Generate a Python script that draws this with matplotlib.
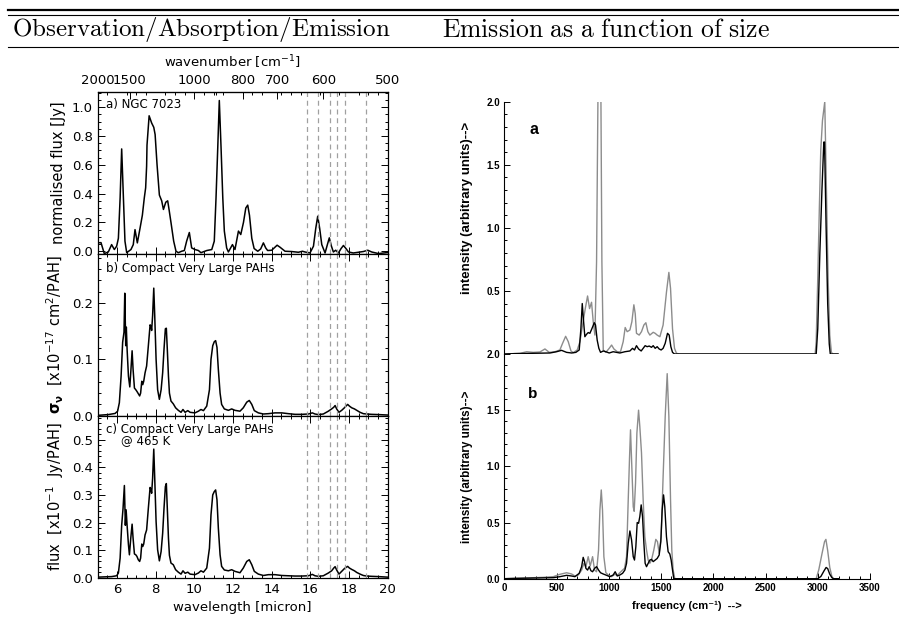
import numpy as np
import matplotlib.pyplot as plt
from matplotlib.ticker import MultipleLocator, FixedLocator

# ----- left column: observation / absorption / emission (wavelength in micron) -----
lam_a = [5.00, 5.17, 5.34, 5.55, 5.72, 5.86, 5.98, 6.07, 6.16, 6.24, 6.33, 6.41, 6.50,
         6.72, 6.84, 6.93, 7.05, 7.19, 7.31, 7.41, 7.48, 7.53, 7.55, 7.66, 7.79, 7.90,
         7.97, 8.07, 8.19, 8.31, 8.40, 8.52, 8.62, 8.69, 8.79, 8.93, 9.05, 9.17, 9.34,
         9.48, 9.60, 9.74, 9.86, 10.03, 10.21, 10.34, 10.64, 10.90, 11.03, 11.12, 11.21,
         11.29, 11.38, 11.47, 11.55, 11.67, 11.76, 11.97, 12.10, 12.28, 12.40, 12.54,
         12.66, 12.76, 12.85, 12.97, 13.09, 13.28, 13.43, 13.57, 13.69, 13.79, 14.00,
         14.28, 14.43, 14.69, 15.03, 15.38, 15.59, 15.72, 15.98, 16.16, 16.28, 16.38,
         16.48, 16.59, 16.76, 16.88, 16.98, 17.09, 17.19, 17.31, 17.45, 17.59, 17.71,
         17.84, 17.97, 18.22, 18.48, 18.74, 18.97, 19.17, 19.52, 20.00]
flux_a = [0.058, 0.060, -0.016, -0.005, 0.046, 0.012, 0.035, 0.090, 0.37, 0.71, 0.37, 0.07, -0.01,
          0.012, 0.046, 0.15, 0.058, 0.16, 0.25, 0.37, 0.44, 0.59, 0.736, 0.94, 0.89, 0.86,
          0.81, 0.60, 0.39, 0.35, 0.29, 0.34, 0.35, 0.29, 0.20, 0.07, 0.0, -0.01, 0.0,
          0.005, 0.07, 0.13, 0.023, 0.012, 0.005, -0.01, 0.005, 0.012, 0.07, 0.37, 0.72,
          1.046, 0.72, 0.37, 0.14, 0.023, -0.005, 0.046, 0.012, 0.14, 0.116, 0.20,
          0.30, 0.32, 0.25, 0.09, 0.019, 0.0, 0.016, 0.058, 0.023, 0.005, 0.007,
          0.042, 0.028, 0.0, -0.002, -0.007, 0.0, -0.005, -0.012, 0.035, 0.16, 0.243,
          0.16, 0.046, -0.012, 0.046, 0.093, 0.035, -0.005, 0.007, -0.012, 0.019, 0.04,
          0.019, -0.005, -0.012, -0.007, -0.002, 0.007, -0.005, -0.016, -0.009]

lam_b = [5.00, 5.55, 5.90, 6.03, 6.12, 6.21, 6.29, 6.36, 6.40, 6.45, 6.48, 6.52, 6.59,
         6.66, 6.72, 6.78, 6.83, 6.90, 6.97, 7.03, 7.10, 7.17, 7.22, 7.28, 7.33, 7.38,
         7.45, 7.53, 7.62, 7.71, 7.76, 7.79, 7.84, 7.90, 7.95, 8.02, 8.10, 8.19, 8.28,
         8.36, 8.43, 8.50, 8.55, 8.60, 8.66, 8.71, 8.79, 8.91, 9.03, 9.17, 9.31, 9.41,
         9.52, 9.66, 9.78, 10.03, 10.21, 10.34, 10.47, 10.64, 10.78, 10.86, 10.95, 11.03,
         11.10, 11.17, 11.24, 11.33, 11.41, 11.55, 11.76, 11.93, 12.10, 12.36, 12.53,
         12.71, 12.84, 12.97, 13.10, 13.31, 13.57, 13.83, 14.17, 14.52, 14.86, 15.21,
         15.55, 15.90, 16.10, 16.24, 16.41, 16.67, 16.93, 17.10, 17.21, 17.28, 17.36,
         17.48, 17.62, 17.76, 17.84, 17.93, 18.02, 18.14, 18.28, 18.40, 18.57, 18.74,
         18.91, 19.17, 19.52, 20.00]
sigma_b = [0.0006, 0.002, 0.004, 0.008, 0.023, 0.070, 0.130, 0.148, 0.217, 0.124, 0.157, 0.118, 0.070,
           0.051, 0.082, 0.115, 0.082, 0.049, 0.046, 0.043, 0.039, 0.035, 0.040, 0.061, 0.055, 0.061,
           0.076, 0.088, 0.124, 0.161, 0.158, 0.151, 0.177, 0.226, 0.177, 0.100, 0.046, 0.029, 0.046,
           0.076, 0.118, 0.154, 0.155, 0.118, 0.070, 0.040, 0.026, 0.021, 0.014, 0.0095, 0.006, 0.011,
           0.006, 0.009, 0.006, 0.005, 0.008, 0.011, 0.009, 0.017, 0.046, 0.100, 0.124, 0.131,
           0.133, 0.121, 0.082, 0.040, 0.020, 0.012, 0.0095, 0.012, 0.0095, 0.008, 0.014,
           0.024, 0.027, 0.020, 0.009, 0.005, 0.003, 0.0036, 0.005, 0.005, 0.0036, 0.0024,
           0.0024, 0.003, 0.005, 0.003, 0.002, 0.003, 0.008, 0.012, 0.015, 0.018, 0.012,
           0.006, 0.0095, 0.014, 0.017, 0.020, 0.017, 0.014, 0.012, 0.0095, 0.006, 0.0036,
           0.003, 0.0024, 0.002, 0.0012]

lam_c = [5.00, 5.72, 5.98, 6.07, 6.16, 6.24, 6.31, 6.38, 6.43, 6.47, 6.52, 6.59, 6.64,
         6.71, 6.78, 6.83, 6.90, 6.97, 7.03, 7.10, 7.17, 7.22, 7.28, 7.33, 7.38,
         7.45, 7.53, 7.62, 7.71, 7.76, 7.79, 7.84, 7.90, 7.95, 8.02, 8.10, 8.19, 8.28,
         8.36, 8.43, 8.50, 8.55, 8.60, 8.66, 8.71, 8.79, 8.91, 9.03, 9.17, 9.31, 9.41,
         9.52, 9.66, 9.78, 10.03, 10.21, 10.34, 10.47, 10.64, 10.78, 10.86, 10.95, 11.03,
         11.10, 11.17, 11.24, 11.33, 11.41, 11.55, 11.76, 11.93, 12.10, 12.36, 12.53,
         12.71, 12.84, 12.97, 13.10, 13.31, 13.57, 13.83, 14.17, 14.52, 14.86, 15.21,
         15.55, 15.90, 16.10, 16.24, 16.41, 16.67, 16.93, 17.10, 17.21, 17.28, 17.36,
         17.48, 17.62, 17.76, 17.84, 17.93, 18.02, 18.14, 18.28, 18.40, 18.57, 18.74,
         18.91, 19.17, 19.52, 20.00]
flux_c = [0.002, 0.004, 0.007, 0.017, 0.071, 0.190, 0.250, 0.334, 0.190, 0.246, 0.190, 0.120, 0.083,
          0.143, 0.194, 0.143, 0.086, 0.083, 0.077, 0.065, 0.059, 0.071, 0.122, 0.113, 0.122, 0.155,
          0.173, 0.252, 0.327, 0.318, 0.306, 0.360, 0.466, 0.360, 0.204, 0.101, 0.061, 0.095, 0.161,
          0.252, 0.330, 0.341, 0.252, 0.143, 0.081, 0.053, 0.047, 0.029, 0.020, 0.013, 0.025,
          0.016, 0.020, 0.013, 0.011, 0.017, 0.025, 0.020, 0.035, 0.107, 0.228, 0.300, 0.312,
          0.318, 0.282, 0.180, 0.083, 0.041, 0.028, 0.025, 0.029, 0.023, 0.018, 0.035,
          0.059, 0.065, 0.047, 0.023, 0.013, 0.008, 0.011, 0.011, 0.008, 0.007, 0.006,
          0.006, 0.007, 0.012, 0.007, 0.005, 0.007, 0.017, 0.025, 0.035, 0.040, 0.028,
          0.013, 0.023, 0.033, 0.037, 0.041, 0.035, 0.030, 0.025, 0.019, 0.013, 0.008,
          0.006, 0.005, 0.004, 0.002]

band_lines = [15.8, 16.4, 17.0, 17.4, 17.8, 18.9]
wn_ticks = [2000, 1500, 1000, 800, 700, 600, 500]

# ----- right column: emission vs frequency (cm-1) -----
fa_grey = [0, 150, 214, 277, 341, 389, 430, 485, 532, 558, 587, 612, 638, 660, 698, 724, 749,
           775, 797, 816, 835, 851, 867, 883, 900, 912, 922, 934, 947, 972, 1004, 1027, 1049,
           1081, 1112, 1138, 1157, 1176, 1202, 1221, 1240, 1253, 1265, 1291, 1313, 1336, 1355,
           1374, 1393, 1425, 1444, 1463, 1489, 1520, 1552, 1575, 1591, 1610, 1629, 1648, 1680,
           2975, 2985, 3000, 3015, 3029, 3045, 3067, 3083, 3099, 3115, 3131, 3150, 3194]
ia_grey = [0, 0.005, 0.018, 0.013, 0.016, 0.04, 0.013, 0.018, 0.032, 0.085, 0.14, 0.098, 0.024,
           0.011, 0.032, 0.098, 0.23, 0.36, 0.46, 0.36, 0.41, 0.256, 0.15, 0.73, 2.4, 2.8, 2.4,
           0.73, 0.032, 0.013, 0.045, 0.071, 0.04, 0.018, 0.018, 0.098, 0.21, 0.177, 0.19, 0.256,
           0.39, 0.32, 0.164, 0.15, 0.177, 0.23, 0.248, 0.177, 0.15, 0.172, 0.164, 0.15, 0.137,
           0.23, 0.49, 0.647, 0.52, 0.20, 0.045, 0.005, 0.0,
           0.0, 0.1, 0.6, 1.15, 1.62, 1.85, 2.0, 1.3, 0.6, 0.15, 0.01, 0.0, 0.0]
fa_black = [0, 100, 437, 500, 548, 596, 644, 685, 717, 733, 746, 759, 771, 787, 803, 819, 838,
            861, 873, 889, 905, 921, 947, 972, 1004, 1042, 1074, 1106, 1154, 1202, 1227, 1246,
            1265, 1285, 1310, 1329, 1348, 1367, 1387, 1409, 1425, 1444, 1463, 1482, 1501, 1520,
            1540, 1562, 1578, 1594, 1610, 1629,
            2985, 3000, 3020, 3040, 3058, 3065, 3080, 3095, 3110, 3120, 3194]
ia_black = [0, 0.003, 0.008, 0.018, 0.029, 0.013, 0.008, 0.013, 0.032, 0.20, 0.40, 0.256, 0.137,
            0.156, 0.17, 0.164, 0.20, 0.248, 0.23, 0.11, 0.045, 0.013, 0.024, 0.018, 0.008, 0.018,
            0.013, 0.008, 0.018, 0.024, 0.045, 0.032, 0.066, 0.04, 0.024, 0.045, 0.066, 0.058,
            0.063, 0.053, 0.066, 0.045, 0.058, 0.04, 0.032, 0.045, 0.085, 0.164, 0.15, 0.058,
            0.013, 0.0,
            0.0, 0.2, 0.8, 1.3, 1.68, 1.68, 1.0, 0.4, 0.08, 0.0, 0.0]

fb_grey = [0, 150, 277, 373, 469, 532, 596, 644, 676, 708, 740, 762, 781, 803, 822, 845, 864,
           883, 902, 915, 928, 940, 953, 972, 995, 1026, 1058, 1081, 1106, 1132, 1151, 1170,
           1186, 1199, 1208, 1218, 1234, 1243, 1256, 1269, 1285, 1297, 1313, 1329, 1345, 1361,
           1377, 1393, 1409, 1431, 1450, 1466, 1482, 1501, 1520, 1540, 1559, 1575, 1591, 1603,
           1616, 1632, 2985, 3010, 3040, 3065, 3078, 3095, 3115, 3135, 3150, 3200]
ib_grey = [0, 0.003, 0.009, 0.012, 0.018, 0.039, 0.053, 0.042, 0.024, 0.033, 0.077, 0.137, 0.107,
           0.196, 0.113, 0.196, 0.077, 0.062, 0.256, 0.61, 0.79, 0.61, 0.196, 0.053, 0.033, 0.018,
           0.039, 0.03, 0.053, 0.077, 0.092, 0.196, 0.70, 1.09, 1.325, 1.06, 0.64, 0.60, 0.85,
           1.296, 1.50, 1.355, 1.12, 0.70, 0.374, 0.256, 0.166, 0.137, 0.166, 0.256, 0.35, 0.33,
           0.226, 0.374, 0.91, 1.444, 1.825, 1.444, 0.70, 0.256, 0.077, 0.0,
           0.0, 0.08, 0.22, 0.33, 0.35, 0.25, 0.10, 0.02, 0.0, 0.0]
fb_black = [0, 100, 469, 532, 596, 644, 676, 717, 740, 755, 768, 781, 797, 813, 829, 845, 864,
            883, 902, 921, 947, 979, 1010, 1042, 1061, 1081, 1106, 1132, 1154, 1170, 1186, 1202,
            1218, 1234, 1246, 1259, 1272, 1285, 1297, 1310, 1323, 1336, 1348, 1361, 1377, 1393,
            1409, 1425, 1444, 1463, 1482, 1498, 1511, 1524, 1536, 1552, 1568, 1584, 1597, 1610,
            1622, 3000, 3030, 3060, 3080, 3095, 3115, 3135, 3150, 3200]
ib_black = [0, 0.003, 0.009, 0.018, 0.03, 0.024, 0.018, 0.048, 0.107, 0.19, 0.152, 0.092, 0.077,
            0.107, 0.071, 0.062, 0.092, 0.107, 0.077, 0.053, 0.042, 0.03, 0.018, 0.033, 0.062,
            0.024, 0.033, 0.048, 0.077, 0.137, 0.315, 0.425, 0.345, 0.196, 0.166, 0.285, 0.50,
            0.493, 0.553, 0.657, 0.553, 0.315, 0.137, 0.107, 0.137, 0.166, 0.172, 0.152, 0.166,
            0.18, 0.21, 0.33, 0.61, 0.746, 0.64, 0.374, 0.24, 0.22, 0.166, 0.077, 0.0,
            0.0, 0.02, 0.07, 0.10, 0.09, 0.04, 0.01, 0.0, 0.0]

GREY = "#8c8c8c"
DASH = "#a0a0a0"
RFONT = ["Liberation Sans", "DejaVu Sans"]

fig = plt.figure(figsize=(8.99, 6.31), dpi=100)

# header with rules
fig.add_artist(plt.Line2D([8 / 899, 1], [1 - 10 / 631] * 2, color="black", lw=1.6))
fig.add_artist(plt.Line2D([8 / 899, 1], [1 - 15 / 631] * 2, color="black", lw=0.8))
fig.add_artist(plt.Line2D([8 / 899, 1], [1 - 47 / 631] * 2, color="black", lw=0.8))
fig.text(201 / 899, 1 - 30 / 631, r"$\mathrm{Observation/Absorption/Emission}$",
         math_fontfamily="cm", fontsize=18, ha="center", va="center")
fig.text(606 / 899, 1 - 30 / 631, r"$\mathrm{Emission\ as\ a\ function\ of\ size}$",
         math_fontfamily="cm", fontsize=18.5, ha="center", va="center")

# ----- left column -----
lx, lw_ = 97.7 / 899, 290 / 899
ax_a = fig.add_axes([lx, 1 - 253.7 / 631, lw_, 161.7 / 631])
ax_b = fig.add_axes([lx, 1 - 415.7 / 631, lw_, 162 / 631])
ax_c = fig.add_axes([lx, 1 - 577.7 / 631, lw_, 162 / 631])

ax_a.plot(lam_a, flux_a, color="black", lw=1.1)
ax_b.plot(lam_b, sigma_b, color="black", lw=1.1)
ax_c.plot(lam_c, flux_c, color="black", lw=1.1)

ax_a.set_ylim(-0.017, 1.105)
ax_b.set_ylim(0.0, 0.287)
ax_c.set_ylim(0.0, 0.587)
ax_a.yaxis.set_major_locator(MultipleLocator(0.2))
ax_a.yaxis.set_minor_locator(MultipleLocator(0.05))
ax_b.yaxis.set_major_locator(MultipleLocator(0.1))
ax_b.yaxis.set_minor_locator(MultipleLocator(0.02))
ax_c.yaxis.set_major_locator(MultipleLocator(0.1))
ax_c.yaxis.set_minor_locator(MultipleLocator(0.02))

for ax in (ax_a, ax_b, ax_c):
    ax.set_xlim(5, 20)
    ax.xaxis.set_major_locator(MultipleLocator(2))
    ax.xaxis.set_minor_locator(MultipleLocator(0.5))
    ax.tick_params(which="both", direction="in", top=True, right=True, labelsize=9.5,
                   width=0.7, colors="black")
    ax.tick_params(which="major", length=5)
    ax.tick_params(which="minor", length=2.5)
    for s in ax.spines.values():
        s.set_linewidth(0.9)
    for b in band_lines:
        ax.axvline(b, color=DASH, ls=(0, (4, 3)), lw=0.9)
    ax.yaxis.set_major_formatter(plt.FuncFormatter(lambda v, p: f"{v:.1f}"))

ax_a.tick_params(labelbottom=False, top=False)
ax_b.tick_params(labelbottom=False)

# wavenumber scale along the top of panel a
top = ax_a.secondary_xaxis("top", functions=(lambda x: 1e4 / np.asarray(x, float),
                                              lambda x: 1e4 / np.asarray(x, float)))
top.set_xticks(wn_ticks)
top.xaxis.set_minor_locator(FixedLocator([900]))
top.tick_params(which="both", direction="in", labelsize=9.5, width=0.7)
top.tick_params(which="major", length=5)
top.tick_params(which="minor", length=2.5)
fig.text(232 / 899, 1 - 62 / 631, r"wavenumber [cm$^{-1}$]", fontsize=9.5,
         ha="center", va="center")

ax_a.set_ylabel("normalised flux [Jy]", fontsize=10.5)
ax_b.set_ylabel(r"$\mathbf{\sigma_{\nu}}$  [x10$^{-17}$ cm$^{2}$/PAH]", fontsize=10.5)
ax_c.set_ylabel(r"flux  [x10$^{-1}$  Jy/PAH]", fontsize=10.5)
ax_c.set_xlabel("wavelength [micron]", fontsize=9.5, labelpad=4)
for ax in (ax_a, ax_b, ax_c):
    ax.yaxis.set_label_coords(-0.11, 0.5)

ax_a.text(0.03, 0.92, "a) NGC 7023", transform=ax_a.transAxes, fontsize=8.5, va="center")
ax_b.text(0.03, 0.91, "b) Compact Very Large PAHs", transform=ax_b.transAxes,
          fontsize=8.5, va="center")
ax_c.text(0.03, 0.955, "c) Compact Very Large PAHs\n    @ 465 K", transform=ax_c.transAxes,
          fontsize=8.5, va="top", linespacing=0.85)

# ----- right column -----
rx, rw = 504.3 / 899, 365.7 / 899
ax_ra = fig.add_axes([rx, 1 - 354 / 631, rw, 252.3 / 631])
ax_rb = fig.add_axes([rx, 1 - 578.7 / 631, rw, 224.7 / 631])

ax_ra.plot(fa_grey, ia_grey, color=GREY, lw=1.0)
ax_ra.plot(fa_black, ia_black, color="black", lw=1.0)
ax_rb.plot(fb_grey, ib_grey, color=GREY, lw=1.0)
ax_rb.plot(fb_black, ib_black, color="black", lw=1.0)

for ax in (ax_ra, ax_rb):
    ax.set_xlim(0, 3500)
    ax.set_ylim(0, 2.0)
    ax.spines["top"].set_visible(False)
    ax.spines["right"].set_visible(False)
    ax.spines["left"].set_linewidth(0.8)
    ax.spines["bottom"].set_linewidth(0.8)
    ax.yaxis.set_minor_locator(MultipleLocator(0.1))
    ax.yaxis.set_major_locator(MultipleLocator(0.5))
    ax.xaxis.set_major_locator(MultipleLocator(500))
    ax.xaxis.set_minor_locator(MultipleLocator(100))
    ax.tick_params(which="both", direction="in", labelsize=7, width=0.7, pad=3)
    ax.tick_params(which="major", length=4)
    ax.tick_params(which="minor", length=2.5)
    ax.yaxis.set_major_formatter(plt.FuncFormatter(lambda v, p: f"{v:.1f}"))

ax_ra.spines["bottom"].set_visible(False)
ax_ra.tick_params(which="both", bottom=False, labelbottom=False)
ax_ra.set_yticks([0.5, 1.0, 1.5, 2.0])

for ax in (ax_ra, ax_rb):
    for lab in ax.get_xticklabels() + ax.get_yticklabels():
        lab.set_family(RFONT)
        lab.set_fontweight("bold")

ax_ra.text(0.07, 0.89, "a", transform=ax_ra.transAxes, fontsize=11.5, fontweight="bold",
           family=RFONT, va="center")
ax_rb.text(0.065, 0.82, "b", transform=ax_rb.transAxes, fontsize=11, fontweight="bold",
           family=RFONT, va="center")

ylab = "intensity (arbitrary units)-->"
ax_ra.set_ylabel(ylab, fontsize=9.5, fontweight="bold", family=RFONT)
ax_rb.set_ylabel(ylab, fontsize=8.4, fontweight="bold", family=RFONT)
ax_ra.yaxis.set_label_coords(-0.085, 0.58)
ax_rb.yaxis.set_label_coords(-0.085, 0.50)
ax_rb.set_xlabel("frequency (cm\u207b\u00b9)  -->", fontsize=8, fontweight="bold",
                 family=RFONT, labelpad=6)

fig.savefig("out.png", dpi=100)
